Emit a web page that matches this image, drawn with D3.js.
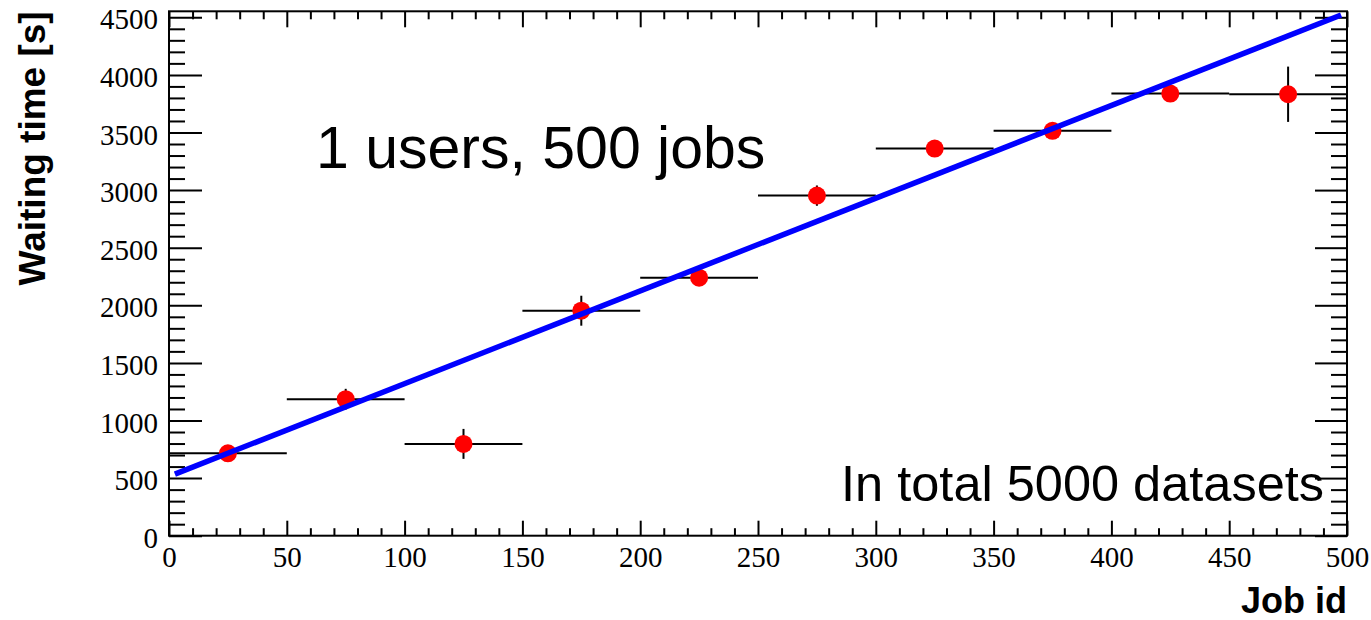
<!DOCTYPE html>
<html>
<head>
<meta charset="utf-8">
<script src="https://cdn.jsdelivr.net/npm/d3@7"></script>
<style>
  html, body { margin: 0; padding: 0; background: #fff; }
  svg { display: block; }
</style>
</head>
<body>
<svg id="chart" width="1371" height="620"></svg>
<script>
// ---- data ----
const jobId      = [25, 75, 125, 175, 225, 275, 325, 375, 425, 475];
const binHalf    = [25, 25, 25, 25, 25, 25, 25, 25, 25, 25];
const waitTime   = [715, 1185, 797, 1953, 2240, 2952, 3360, 3515, 3838, 3832];
const waitErr    = [70, 90, 130, 130, 70, 88, 70, 70, 70, 240];
const fitX       = [2.5, 497.5];
const fitY       = [535, 4520];
const xRange     = [0, 500];
const yRange     = [0, 4552];
const xMajorTicks = [0, 50, 100, 150, 200, 250, 300, 350, 400, 450, 500];
const yMajorTicks = [0, 500, 1000, 1500, 2000, 2500, 3000, 3500, 4000, 4500];
const xMinorTicks = d3.range(0, 501, 10).filter(v => v % 50 !== 0);
const yMinorTicks = d3.range(0, 4551, 100).filter(v => v % 500 !== 0);
const titleX = "Job id";
const titleY = "Waiting time [s]";
const textMain = "1 users, 500 jobs";
const textTotal = "In total 5000 datasets";

// ---- layout ----
const L = 169, R = 1347, T = 11.3, B = 535.7;
const svg = d3.select("#chart");
const x = d3.scaleLinear().domain(xRange).range([L, R]);
const y = d3.scaleLinear().domain(yRange).range([B, T]);

const serif = "'Liberation Serif', 'Times New Roman', Times, serif";
const sans = "'Liberation Sans', Arial, Helvetica, sans-serif";

function styleAxis(g, labels) {
  g.select(".domain").remove();
  g.selectAll(".tick line").attr("stroke", "#000").attr("stroke-width", 2);
  g.attr("font-family", serif).attr("font-size", 29);
  g.selectAll(".tick text").attr("fill", "#000");
  if (!labels) g.selectAll(".tick text").remove();
}

// left axis
svg.append("g").attr("transform", `translate(${L},0)`)
  .call(d3.axisLeft(y).tickValues(yMajorTicks).tickSize(-33).tickPadding(11).tickFormat(d3.format("d")))
  .call(g => styleAxis(g, true))
  .call(g => g.selectAll(".tick text").attr("dy", "0.4em"));
svg.append("g").attr("transform", `translate(${L},0)`)
  .call(d3.axisLeft(y).tickValues(yMinorTicks).tickSize(-16).tickFormat(""))
  .call(g => styleAxis(g, false));
// right axis
svg.append("g").attr("transform", `translate(${R},0)`)
  .call(d3.axisRight(y).tickValues(yMajorTicks).tickSize(-32).tickFormat(""))
  .call(g => styleAxis(g, false));
svg.append("g").attr("transform", `translate(${R},0)`)
  .call(d3.axisRight(y).tickValues(yMinorTicks).tickSize(-16).tickFormat(""))
  .call(g => styleAxis(g, false));
// bottom axis
svg.append("g").attr("transform", `translate(0,${B})`)
  .call(d3.axisBottom(x).tickValues(xMajorTicks).tickSize(-15).tickPadding(11).tickFormat(d3.format("d")))
  .call(g => styleAxis(g, true));
svg.append("g").attr("transform", `translate(0,${B})`)
  .call(d3.axisBottom(x).tickValues(xMinorTicks).tickSize(-7.5).tickFormat(""))
  .call(g => styleAxis(g, false));
// top axis
svg.append("g").attr("transform", `translate(0,${T})`)
  .call(d3.axisTop(x).tickValues(xMajorTicks).tickSize(-16).tickFormat(""))
  .call(g => styleAxis(g, false));
svg.append("g").attr("transform", `translate(0,${T})`)
  .call(d3.axisTop(x).tickValues(xMinorTicks).tickSize(-8).tickFormat(""))
  .call(g => styleAxis(g, false));

// frame
svg.append("rect")
  .attr("x", L).attr("y", T).attr("width", R - L).attr("height", B - T)
  .attr("fill", "none").attr("stroke", "#000").attr("stroke-width", 2);

// data
const pts = jobId.map((d, i) => ({x: d, hx: binHalf[i], y: waitTime[i], ey: waitErr[i]}));
const gData = svg.append("g");
gData.selectAll("line.ex").data(pts).join("line").attr("class", "ex")
  .attr("x1", d => x(d.x - d.hx)).attr("x2", d => x(d.x + d.hx))
  .attr("y1", d => y(d.y)).attr("y2", d => y(d.y))
  .attr("stroke", "#000").attr("stroke-width", 2);
gData.selectAll("line.ey").data(pts).join("line").attr("class", "ey")
  .attr("x1", d => x(d.x)).attr("x2", d => x(d.x))
  .attr("y1", d => y(d.y - d.ey)).attr("y2", d => y(d.y + d.ey))
  .attr("stroke", "#000").attr("stroke-width", 2);
gData.selectAll("circle").data(pts).join("circle")
  .attr("cx", d => x(d.x)).attr("cy", d => y(d.y)).attr("r", 9)
  .attr("fill", "#ff0000");

// fit line
const fitPts = fitX.map((d, i) => [d, fitY[i]]);
svg.append("path")
  .attr("d", d3.line().x(d => x(d[0])).y(d => y(d[1]))(fitPts))
  .attr("fill", "none").attr("stroke", "#0000ff").attr("stroke-width", 5.5);

// texts
svg.append("text").attr("x", 316).attr("y", 168).attr("font-family", sans)
  .attr("font-size", 59).attr("fill", "#000").text(textMain);
svg.append("text").attr("x", 1324).attr("y", 501).attr("text-anchor", "end")
  .attr("font-family", sans).attr("font-size", 50.5).attr("fill", "#000").text(textTotal);

// axis titles
svg.append("text").attr("x", R).attr("y", 613).attr("text-anchor", "end")
  .attr("font-family", sans).attr("font-weight", "bold").attr("font-size", 36)
  .attr("fill", "#000").text(titleX);
svg.append("text").attr("transform", `translate(45,${T}) rotate(-90)`)
  .attr("text-anchor", "end")
  .attr("font-family", sans).attr("font-weight", "bold").attr("font-size", 37)
  .attr("fill", "#000").text(titleY);
</script>
</body>
</html>
